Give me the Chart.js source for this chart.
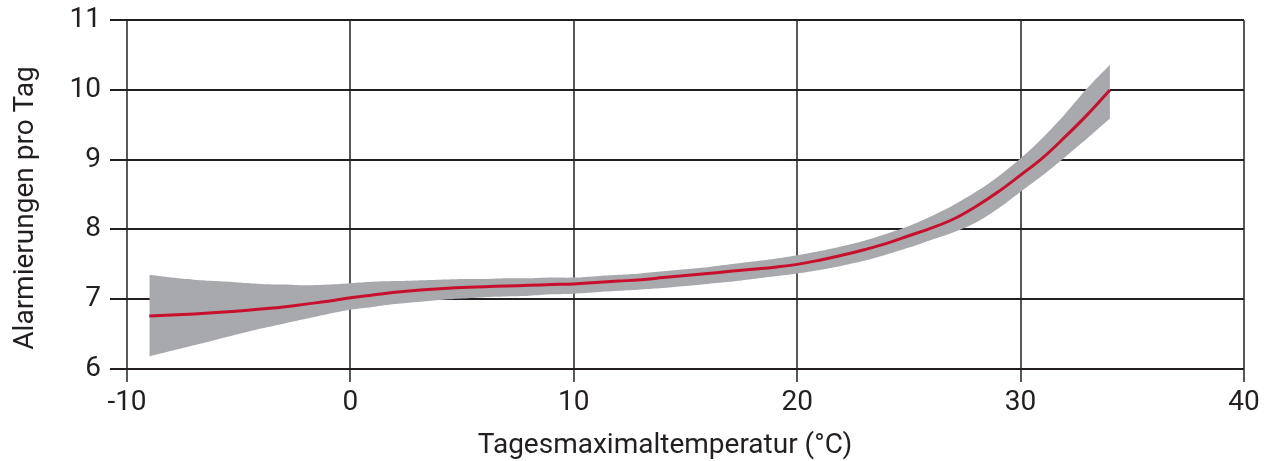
<!DOCTYPE html>
<html>
<head>
<meta charset="utf-8">
<script src="https://cdn.jsdelivr.net/npm/chart.js@4.4.1/dist/chart.umd.min.js"></script>
<style>
  html, body { margin: 0; padding: 0; background: #ffffff; }
  #wrap { width: 1269px; height: 461px; }
</style>
</head>
<body>
<div id="wrap"><canvas id="c" width="1269" height="461"></canvas></div>
<script>
// Daily maximum temperature (°C)
const temps = [-9,-8,-7,-6,-5,-4,-3,-2,-1,0,1,2,3,4,5,6,7,8,9,10,11,12,13,14,15,16,17,18,19,20,21,22,23,24,25,26,27,28,29,30,31,32,33,34];
// Fitted alarms per day
const fit = [6.76,6.775,6.79,6.81,6.83,6.86,6.89,6.93,6.97,7.02,7.06,7.10,7.13,7.15,7.17,7.18,7.19,7.20,7.21,7.22,7.24,7.26,7.28,7.31,7.34,7.37,7.40,7.43,7.46,7.50,7.56,7.63,7.71,7.80,7.91,8.02,8.15,8.33,8.54,8.78,9.03,9.33,9.65,10.00];
// Confidence band
const upper = [7.35,7.31,7.28,7.26,7.24,7.22,7.21,7.20,7.21,7.23,7.25,7.26,7.27,7.28,7.29,7.29,7.30,7.30,7.31,7.31,7.33,7.35,7.37,7.40,7.43,7.46,7.50,7.54,7.58,7.63,7.69,7.76,7.84,7.94,8.05,8.19,8.35,8.54,8.76,9.02,9.32,9.66,10.03,10.36];
const lower = [6.18,6.26,6.34,6.42,6.50,6.58,6.65,6.72,6.79,6.85,6.89,6.93,6.96,6.99,7.01,7.03,7.04,7.05,7.07,7.08,7.10,7.12,7.14,7.16,7.19,7.22,7.25,7.29,7.33,7.37,7.42,7.48,7.55,7.64,7.74,7.85,7.96,8.10,8.30,8.54,8.78,9.04,9.31,9.59];
// Axis settings
const xTicks = [-10,0,10,20,30,40];
const yTicks = [6,7,8,9,10,11];
const xTitle = 'Tagesmaximaltemperatur (°C)';
const yTitle = 'Alarmierungen pro Tag';

const pts = arr => temps.map((t, i) => ({x: t, y: arr[i]}));
const FONT = 'Roboto';
const TXT = '#231f20';

const titlePlugin = {
  id: 'axisTitles',
  afterDraw(chart) {
    const ctx = chart.ctx;
    ctx.save();
    ctx.fillStyle = TXT;
    ctx.font = '28px ' + FONT;
    ctx.textAlign = 'center';
    ctx.textBaseline = 'alphabetic';
    ctx.fillText(xTitle, 665, 453);
    ctx.translate(33, 208);
    ctx.rotate(-Math.PI / 2);
    ctx.fillText(yTitle, 0, 0);
    ctx.restore();
  }
};

new Chart(document.getElementById('c'), {
  type: 'line',
  data: {
    datasets: [
      { label: 'upper', data: pts(upper), borderWidth: 0, pointRadius: 0, backgroundColor: '#a7a9ac', fill: '+1', tension: 0.4, order: 2 },
      { label: 'lower', data: pts(lower), borderWidth: 0, pointRadius: 0, backgroundColor: '#a7a9ac', fill: false, tension: 0.4, order: 2 },
      { label: 'fit', data: pts(fit), borderColor: '#c8102e', borderWidth: 3, pointRadius: 0, fill: false, tension: 0.4, order: 1 }
    ]
  },
  plugins: [titlePlugin],
  options: {
    responsive: false,
    animation: false,
    devicePixelRatio: 1,
    layout: { padding: { left: 0, right: 25, top: 20, bottom: 0 } },
    plugins: { legend: { display: false }, tooltip: { enabled: false } },
    scales: {
      x: {
        type: 'linear', min: -10, max: 40,
        afterBuildTicks: s => { s.ticks = xTicks.map(v => ({value: v})); },
        afterFit: s => { s.height = 461 - 369; },
        border: { display: false },
        grid: { color: '#58595b', lineWidth: 2, tickLength: 13, drawOnChartArea: true },
        ticks: { color: TXT, font: { family: FONT, size: 28 }, padding: 4, maxRotation: 0 },
        title: { display: false }
      },
      y: {
        type: 'linear', min: 6, max: 11,
        afterBuildTicks: s => { s.ticks = yTicks.map(v => ({value: v})); },
        afterFit: s => { s.width = 127; },
        border: { display: false },
        grid: { color: '#231f20', lineWidth: 2, tickLength: 17 },
        ticks: { color: TXT, font: { family: FONT, size: 28, lineHeight: 0.8 }, padding: 9 },
        title: { display: false }
      }
    }
  }
});
</script>
</body>
</html>
